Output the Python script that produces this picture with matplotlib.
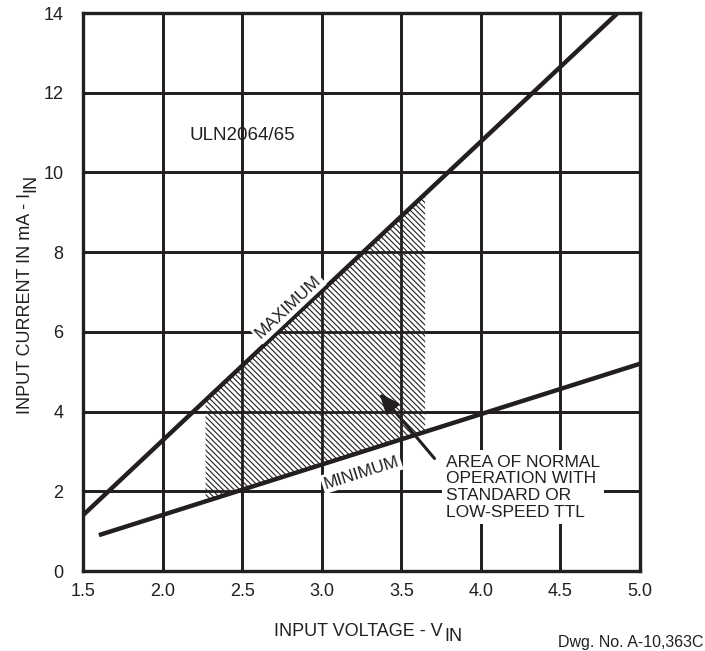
import numpy as np
import matplotlib
matplotlib.use("Agg")
import matplotlib.pyplot as plt

# values
x_ticks = [1.5, 2.0, 2.5, 3.0, 3.5, 4.0, 4.5, 5.0]
y_ticks = [0, 2, 4, 6, 8, 10, 12, 14]
max_v = [1.5, 4.86]
max_i = [1.4, 14.0]
min_v = [1.6, 5.0]
min_i = [0.9, 5.2]
area_v = [2.27, 3.65]

INK = '#231f20'
W, H = 705, 651

plt.rcParams['font.family'] = ['Liberation Sans', 'DejaVu Sans']
plt.rcParams['hatch.linewidth'] = 0.8

fig = plt.figure(figsize=(W / 100, H / 100), dpi=100)
ax = fig.add_axes([83 / W, 80 / H, 557 / W, 558 / H])

ax.set_xlim(1.5, 5.0)
ax.set_ylim(0, 14)
ax.set_xticks(x_ticks)
ax.set_xticklabels([f"{v:.1f}" for v in x_ticks])
ax.set_yticks(y_ticks)
ax.grid(True, color=INK, lw=2.0)
ax.set_axisbelow(True)
for s in ax.spines.values():
    s.set_linewidth(2.4)
    s.set_color(INK)
ax.tick_params(length=0, labelsize=13, colors=INK)
ax.tick_params(axis='x', pad=9)
ax.tick_params(axis='y', pad=14)


def line_at(xs, vx, vy):
    return vy[0] + (np.asarray(xs) - vx[0]) * (vy[1] - vy[0]) / (vx[1] - vx[0])


# hatched area between the two lines
xs = np.linspace(area_v[0], area_v[1], 50)
ax.fill_between(xs, line_at(xs, min_v, min_i), line_at(xs, max_v, max_i),
                facecolor='white', edgecolor=INK, hatch='\\' * 6, lw=0, zorder=2)
# grid again on top of the hatch
for v in x_ticks[1:-1]:
    ax.axvline(v, color=INK, lw=2.0, zorder=2.5)
for v in y_ticks[1:-1]:
    ax.axhline(v, color=INK, lw=2.0, zorder=2.5)

ax.plot(max_v, max_i, color=INK, lw=3.2, solid_capstyle='butt', zorder=4)
ax.plot(min_v, min_i, color=INK, lw=3.2, solid_capstyle='butt', zorder=4)

ax.text(2.79, 6.62, 'MAXIMUM', rotation=43.3, ha='center', va='center', fontsize=12.5,
        color=INK, zorder=5, bbox=dict(facecolor='white', edgecolor='none', pad=1.5))
ax.text(3.25, 2.47, 'MINIMUM', rotation=17.6, ha='center', va='center', fontsize=12.5,
        color=INK, zorder=5, bbox=dict(facecolor='white', edgecolor='none', pad=1.5))
ax.text(2.17, 10.93, 'ULN2064/65', ha='left', va='center', fontsize=13.5, color=INK, zorder=5)
ax.text(3.78, 2.92, 'AREA OF NORMAL\nOPERATION WITH\nSTANDARD OR\nLOW-SPEED TTL',
        ha='left', va='top', fontsize=12.5, color=INK, linespacing=1.15, zorder=5,
        bbox=dict(facecolor='white', edgecolor='none', pad=3))
ax.annotate('', xy=(3.35, 4.52), xytext=(3.72, 2.77),
            arrowprops=dict(arrowstyle='-|>,head_length=1.2,head_width=0.5',
                            color=INK, lw=2.2), zorder=5)

# axis titles with full-size subscripts
fig.text(443 / W, (H - 636) / H, 'INPUT VOLTAGE - V', ha='right', va='baseline',
         fontsize=13, color=INK)
fig.text(444 / W, (H - 641) / H, 'IN', ha='left', va='baseline', fontsize=13, color=INK)
fig.text(30 / W, (H - 193) / H, 'INPUT CURRENT IN mA - I', rotation=90,
         rotation_mode='anchor', ha='right', va='baseline', fontsize=13, color=INK)
fig.text(35 / W, (H - 192) / H, 'IN', rotation=90, rotation_mode='anchor',
         ha='left', va='baseline', fontsize=13, color=INK)

fig.text(703 / W, (H - 647) / H, 'Dwg. No. A-10,363C', ha='right', va='baseline',
         fontsize=11.5, color=INK)

fig.savefig('out.png', dpi=100)
